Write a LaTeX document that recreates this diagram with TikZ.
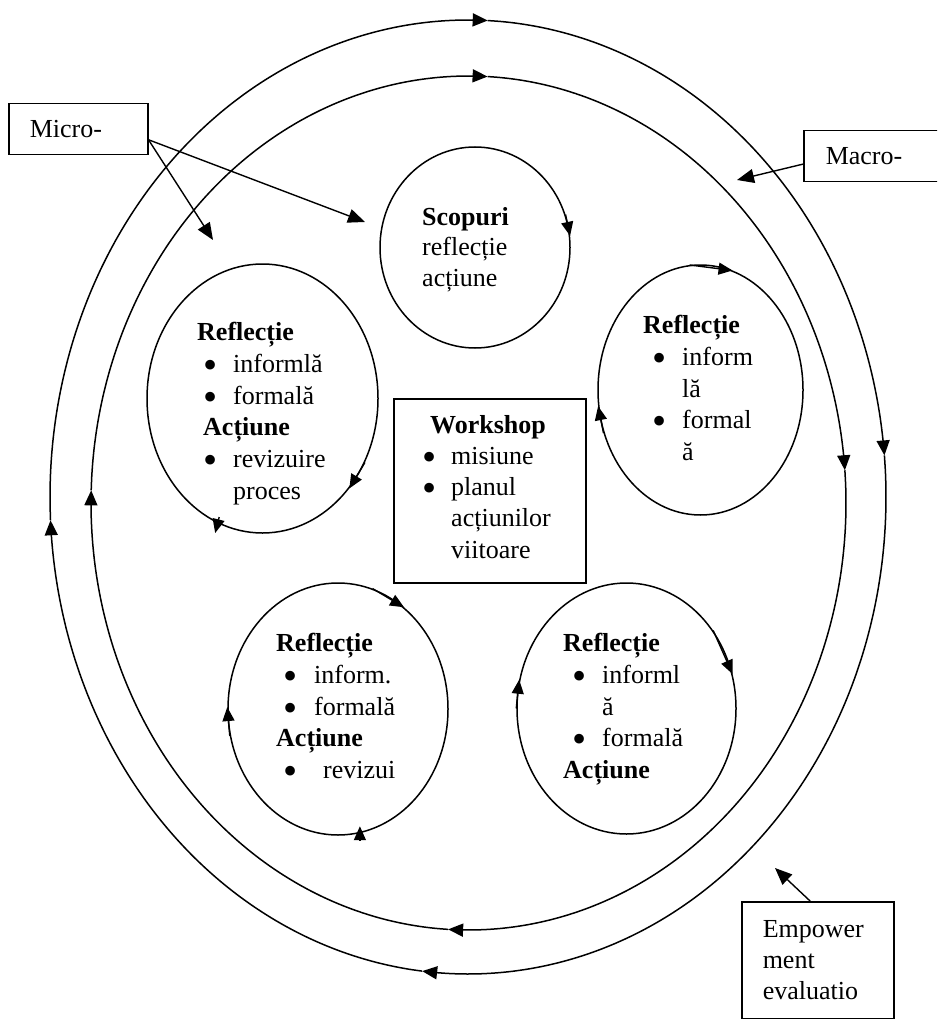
\documentclass[tikz,border=0pt]{standalone}
\usepackage{fontspec}
\setmainfont{Liberation Serif}
\usetikzlibrary{arrows.meta,shapes.geometric,calc}

% enlarged bullet and an indented bullet slot: #1 = indent, #2 = slot width
\newcommand{\bulletmark}{\raisebox{-6pt}{\scalebox{1.55}{\textbullet}}}
\newcommand{\itembul}[2]{\hspace*{#1pt}\makebox[#2pt][l]{\bulletmark}}

\begin{document}
\begin{tikzpicture}[x=1pt,y=-1pt,
  ring/.style={line width=1.5pt},
  rtip/.style={-{Triangle[length=15pt,width=13pt]}},
  etip/.style={line width=1.4pt,-{Triangle[length=14pt,width=12pt]}},
  ptr/.style={line width=1.4pt,-{Triangle[length=17pt,width=14pt]}},
  ell/.style={draw,ellipse,line width=1.5pt,inner sep=0pt},
  frame/.style={draw,line width=1.5pt,rectangle,inner sep=0pt,anchor=north west},
  lbl/.style={font=\fontsize{26}{31.8}\selectfont,align=left,inner sep=0pt,anchor=north west},
  tag/.style={draw,line width=1.5pt,anchor=north west,font=\fontsize{26}{31}\selectfont,
              align=left,inner ysep=0pt,inner xsep=21pt},
]
\useasboundingbox (0,0) rectangle (937,1019);
\clip (0,0) rectangle (937,1019);

% ---- outer cycle (four arcs, clockwise) ----
\draw[ring,rtip] plot[smooth,samples=50,domain=96.3:177.2] ({468+418*cos(\x)},{497+477*sin(\x)});
\draw[ring,rtip] plot[smooth,samples=50,domain=177.2:272.7] ({468+418*cos(\x)},{497+477*sin(\x)});
\draw[ring,rtip] plot[smooth,samples=50,domain=272.7:355] ({468+418*cos(\x)},{497+477*sin(\x)});
\draw[ring,rtip] plot[smooth,samples=50,domain=355:456.3] ({468+418*cos(\x)},{497+477*sin(\x)});

% ---- inner cycle ----
\draw[ring,rtip] plot[smooth,samples=50,domain=93.1:181.7] ({468.5+377.5*cos(\x)},{503+427*sin(\x)});
\draw[ring,rtip] plot[smooth,samples=50,domain=181.7:272.9] ({468.5+377.5*cos(\x)},{503+427*sin(\x)});
\draw[ring,rtip] plot[smooth,samples=50,domain=272.9:355.6] ({468.5+377.5*cos(\x)},{503+427*sin(\x)});
\draw[ring,rtip] plot[smooth,samples=50,domain=355.6:453.1] ({468.5+377.5*cos(\x)},{503+427*sin(\x)});

% ---- small cycles ----
\node[ell,minimum width=190pt,minimum height=201pt] (sc) at (475,247.5) {};
\node[ell,minimum width=231pt,minimum height=269pt] (le) at (262.5,398.5) {};
\node[ell,minimum width=205pt,minimum height=250pt] (tr) at (700.5,390) {};
\node[ell,minimum width=220pt,minimum height=252pt] (bl) at (338,709) {};
\node[ell,minimum width=219pt,minimum height=251pt] (br) at (626.5,708.5) {};

% arrowheads on the small cycles
\draw[etip] (sc.20) -- (sc.7);
\draw[etip] (le.-32) -- (le.-46);
\draw[etip] ($(le.250)+(2,-6)$) -- ($(le.250)+(-2,10)$);
\draw[etip] (tr.95) -- (tr.75);
\draw[etip] (tr.204) -- (tr.189);
\draw[etip] (bl.74) -- (bl.57);
\draw[etip] (bl.194) -- (bl.179);
\draw[etip] ($(bl.-80)+(0,7)$) -- ($(bl.-80)+(0,-7)$);
\draw[etip] (br.42) -- (br.18);
\draw[etip] (br.180) -- (br.165);

% ---- texts inside the cycles ----
\node[lbl,font=\fontsize{26}{30.5}\selectfont] (tsc) at (422,207)
  {\textbf{Scopuri}\\reflecție\\acțiune};
\node[lbl] (tle) at (197,322)
  {\textbf{Reflecție}\\
   \itembul{6}{30}informlă\\
   \itembul{6}{30}formală\\
   \hspace*{6pt}\textbf{Acțiune}\\
   \itembul{6}{30}revizuire\\
   \hspace*{36pt}proces};
\node[lbl] (ttr) at (643,315)
  {\textbf{Reflecție}\\
   \itembul{9}{30}inform\\
   \hspace*{39pt}lă\\
   \itembul{9}{30}formal\\
   \hspace*{39pt}ă};
\node[lbl] (tbl) at (276,633)
  {\textbf{Reflecție}\\
   \itembul{7}{31}inform.\\
   \itembul{7}{31}formală\\
   \textbf{Acțiune}\\
   \itembul{7}{40}revizui};
\node[lbl] (tbr) at (563,633)
  {\textbf{Reflecție}\\
   \itembul{9}{30}informl\\
   \hspace*{39pt}ă\\
   \itembul{9}{30}formală\\
   \textbf{Acțiune}};

% ---- central workshop box ----
\node[frame,minimum width=192pt,minimum height=184pt] (ws) at (393,398) {};
\node[lbl,font=\fontsize{26}{31.2}\selectfont] (tws) at (422,415)
  {\hspace*{8pt}\textbf{Workshop}\\
   \itembul{0}{29}misiune\\
   \itembul{0}{29}planul\\
   \hspace*{29pt}acțiunilor\\
   \hspace*{29pt}viitoare};

% ---- side labels ----
\node[tag,text width=97pt,minimum height=51pt] (micro) at (8,103) {Micro-};
\node[tag,text width=108pt,minimum height=51pt,inner xsep=22pt] (macro) at (803,130) {Macro-};
\node[tag,text width=110pt,minimum height=117pt] (emp) at (741,901) {Empower\\ment\\evaluatio};

\coordinate (microA) at (213,240);
\coordinate (microB) at (365,222);
\coordinate (macroT) at (737,180);
\coordinate (empT) at (775,868);

\draw[ptr] ($(micro.north east)!0.7!(micro.south east)$) -- (microA);
\draw[ptr] ($(micro.north east)!0.7!(micro.south east)$) -- (microB);
\draw[ptr] ($(macro.north west)!0.65!(macro.south west)$) -- (macroT);
\draw[ptr] ($(emp.north west)!0.45!(emp.north east)$) -- (empT);
\end{tikzpicture}
\end{document}
